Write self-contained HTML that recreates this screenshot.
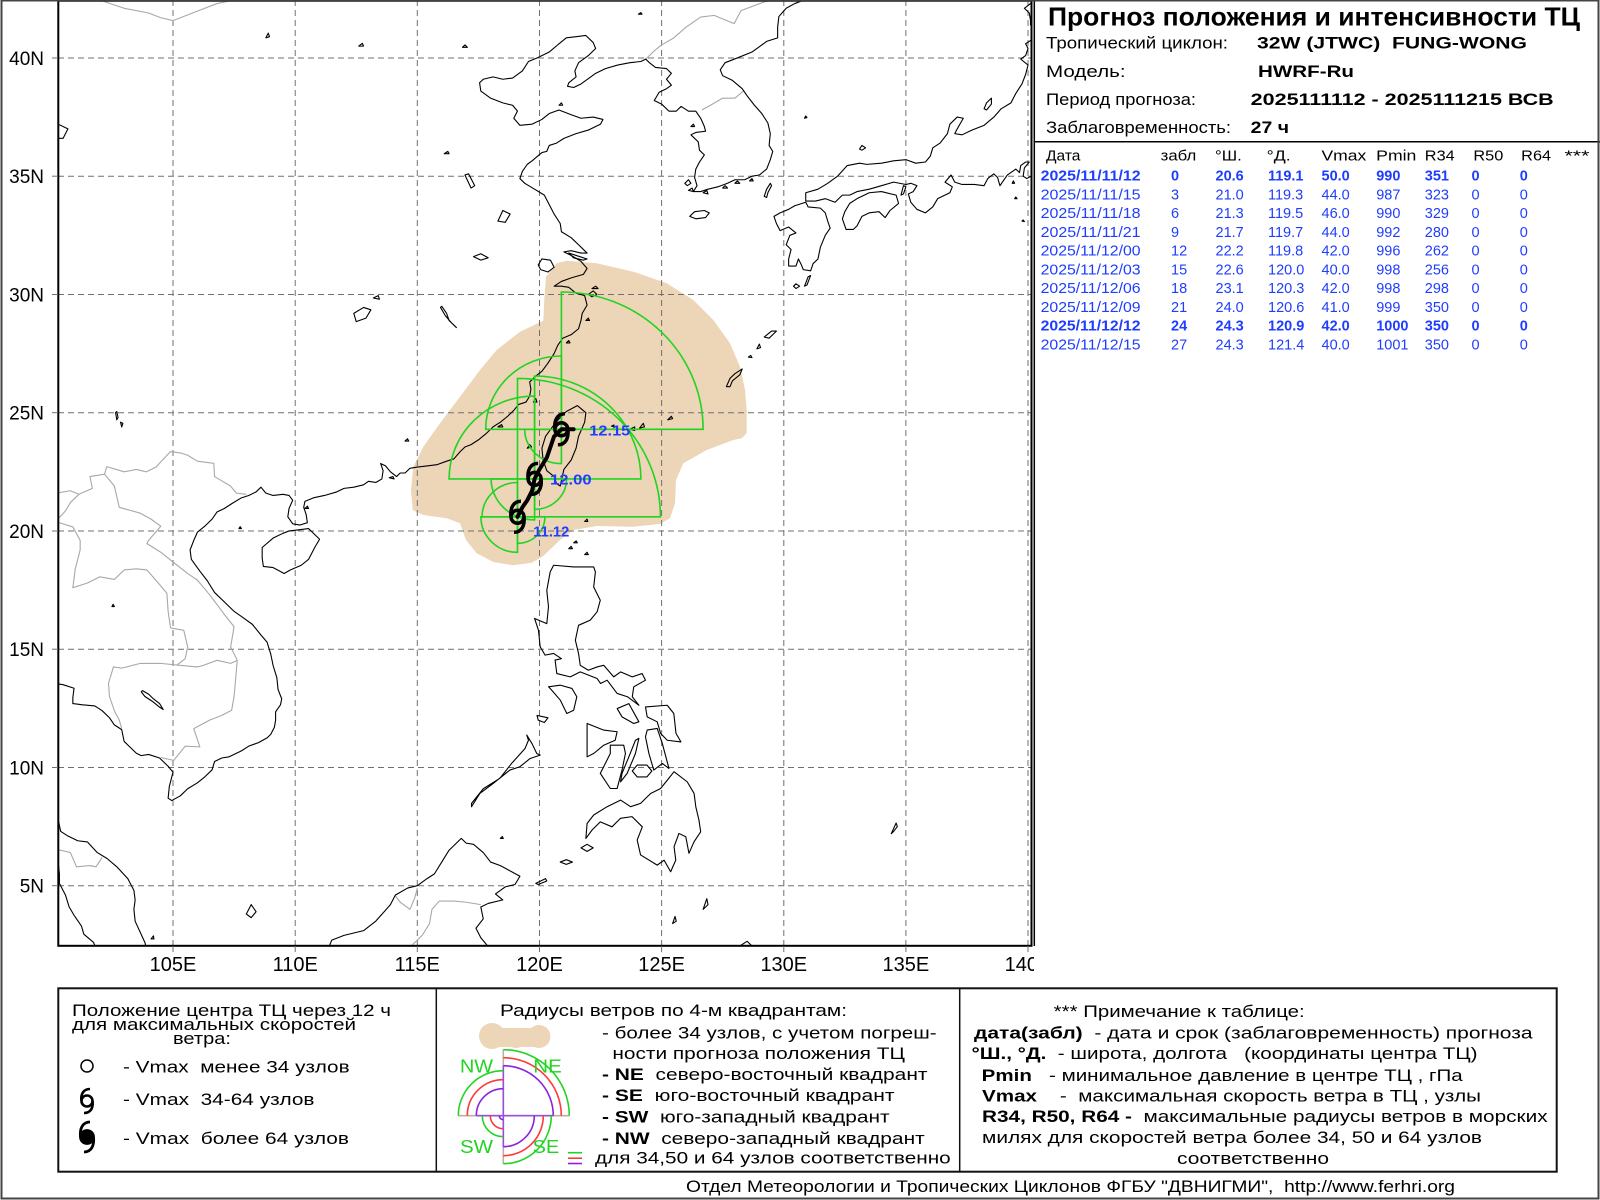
<!DOCTYPE html>
<html><head><meta charset="utf-8"><style>
html,body{margin:0;padding:0;background:#fff;}
svg{display:block;}
text{font-family:"Liberation Sans","DejaVu Sans",sans-serif;white-space:pre;}
.c{fill:none;stroke:#000;stroke-width:1.1;vector-effect:non-scaling-stroke;stroke-linejoin:round;}
.b{fill:none;stroke:#a8a8a8;stroke-width:1.1;vector-effect:non-scaling-stroke;stroke-linejoin:round;}
.g{fill:none;stroke:#22d422;stroke-width:1.6;}
.grid{stroke:#707070;stroke-width:1;stroke-dasharray:6 4;}
.tb{font-size:14.5px;fill:#1f3dff;}
.tbb{font-size:14.5px;fill:#1f3dff;font-weight:bold;}
.lg{font-size:17px;fill:#000;}
</style></head><body>
<svg width="1600" height="1200" viewBox="0 0 1600 1200" xmlns="http://www.w3.org/2000/svg">
<rect x="0" y="0" width="1600" height="1200" fill="#fff"/>
<defs><clipPath id="mc"><rect x="59" y="1" width="972" height="944"/></clipPath></defs>

<g clip-path="url(#mc)">
<polygon fill="#edd5b7" points="566.7,260.7 596.7,263.3 633.3,271.7 666.7,283.3 693.3,300 713.3,320 730,343.3 740,366.7 745,390 746.7,410 746.7,433.3 741.7,438.3 733.3,440 706.7,450 683.3,463.3 676,480 675,503.3 670,518.3 660,524 633.3,526.7 596.7,526 573.3,530 560,540 543.3,556 531.7,562.7 513.3,565.3 493.3,562 476.7,553.3 466,540 460,523.3 446.7,518.3 423.3,515 412.7,510 411,490 413.3,466.7 423.3,446.7 440,423.3 460,396.7 480,370 496.7,350 520,331.7 543.3,320.7 544.3,300 546,276.7 556.7,263.3"/>
<g class="grid">
<line x1="173" y1="0" x2="173" y2="946"/><line x1="295.2" y1="0" x2="295.2" y2="946"/><line x1="417.3" y1="0" x2="417.3" y2="946"/><line x1="539.5" y1="0" x2="539.5" y2="946"/><line x1="661.6" y1="0" x2="661.6" y2="946"/><line x1="783.8" y1="0" x2="783.8" y2="946"/><line x1="905.9" y1="0" x2="905.9" y2="946"/><line x1="1028" y1="0" x2="1028" y2="946"/>
<line x1="58" y1="885.7" x2="1032" y2="885.7"/><line x1="58" y1="767.5" x2="1032" y2="767.5"/><line x1="58" y1="649.2" x2="1032" y2="649.2"/><line x1="58" y1="531" x2="1032" y2="531"/><line x1="58" y1="412.7" x2="1032" y2="412.7"/><line x1="58" y1="294.5" x2="1032" y2="294.5"/><line x1="58" y1="176.2" x2="1032" y2="176.2"/><line x1="58" y1="58" x2="1032" y2="58"/>
</g>
<g transform="matrix(24.43 0 0 -23.65 -2392.15 1003.95)">
<g>
<polyline class="b" points="101.0,42.7 102.0,42.45 103.0,42.1 104.0,41.9 104.5,41.7 105.0,41.58 105.8,41.9 106.8,42.3 107.5,42.45 108.0,42.6"/>
<polyline class="b" points="124.35,39.95 124.7,40.3 125.0,40.55 125.5,40.85 126.0,41.3 126.6,41.73 127.15,41.8 127.97,41.45 128.25,42.0 129.2,42.37 129.8,42.5"/>
<polyline class="b" points="126.65,37.8 127.0,38.0 127.5,38.3 128.0,38.3 128.35,38.6"/>
<polyline class="b" points="108.0,21.55 107.6,21.6 107.35,21.9 106.7,22.3 106.67,22.86 106.0,22.95 105.6,23.2 105.3,23.3 104.89,23.35 104.3,22.7 103.9,22.5 103.5,22.6 103.0,22.5 102.29,22.72 102.2,22.4 101.6,22.3 101.7,21.8 101.15,21.55 100.8,21.7 100.23,21.6 99.8,21.8"/>
<polyline class="b" points="101.15,21.55 100.8,21.2 100.6,20.85 100.2,20.4 100.5,20.3 100.9,20.17 101.2,19.6 101.2,19.2 101.0,18.4 100.9,17.6 101.5,17.8 102.0,18.06 102.6,17.95 103.0,18.35 103.5,18.4 103.93,18.35 104.4,17.8 104.75,17.36 104.8,16.6 104.9,15.9 105.44,15.8 105.6,15.1 105.5,14.6 105.16,14.33"/>
<polyline class="b" points="102.2,22.4 102.6,21.9 102.8,21.0 103.66,20.75 104.1,20.5 104.5,20.2 104.0,19.6 103.93,19.47 104.5,19.1 104.9,18.77 105.6,18.2 106.0,17.92 106.5,17.3 106.67,17.07 107.08,16.5 107.5,15.95 107.36,15.1 107.63,14.53"/>
<polyline class="b" points="107.63,14.53 107.36,14.4 106.8,14.53 106.2,14.3 105.99,14.25 105.16,14.33 104.5,14.4 103.66,14.4 102.9,14.2 102.56,14.25 102.36,13.55 102.4,13.0 102.6,12.4 102.8,12.0 102.9,11.65"/>
<polyline class="b" points="107.63,14.53 107.56,13.69 107.5,13.0 107.4,12.42 107.0,12.2 106.5,12.0 105.85,11.64 106.1,10.87 105.5,10.9 105.03,10.3 104.5,10.42"/>
<polyline class="b" points="100.1,6.45 100.4,6.5 100.8,6.4 101.05,5.8 101.6,5.85 101.85,5.8 102.1,6.2"/>
<polyline class="b" points="114.6,2.2 114.8,2.5 115.2,2.9 115.5,3.4 115.6,4.0 115.9,4.35 116.5,4.35 117.0,4.3 117.6,4.2"/>
<polyline class="b" points="114.1,4.58 114.3,4.3 114.7,4.0 114.9,4.5 115.0,4.9"/>
</g>
<polyline class="c" points="101.9,2.2 101.75,2.6 101.35,2.95 101.25,3.3 100.95,3.75 100.75,4.1 100.6,4.6 100.35,5.1 100.35,5.5 100.3,6.0 100.1,6.4 99.8,6.9"/>
<polyline class="c" points="103.95,2.2 103.85,2.6 103.45,3.5 103.4,4.0 103.45,4.4 103.4,4.8 103.15,5.3 102.7,5.8 102.3,6.15 101.9,6.4 101.5,6.85 101.1,6.9 100.7,7.1 100.4,7.3 100.3,7.8 100.2,8.3 99.9,9.2 99.2,9.3 99.3,10.3 99.5,11.0 99.8,11.8 99.95,12.6 100.0,13.3 100.2,13.55 100.5,13.5 100.95,13.35 100.9,12.95 100.9,12.7 101.3,12.65 101.8,12.6 102.1,12.4 102.4,12.1 102.6,11.8 102.9,11.6 103.0,11.1 103.2,10.9 103.5,10.6 103.7,10.5 104.0,10.55 104.45,10.4 104.8,10.05 105.0,9.8 104.85,9.2 104.8,8.7 104.95,8.6 105.3,8.8 105.6,9.1 106.0,9.35 106.3,9.6 106.6,9.9 106.7,10.25 107.0,10.4 107.3,10.45 107.8,10.7 108.1,10.9 108.5,11.05 108.85,11.25 109.0,11.4 109.15,11.7 109.2,12.0 109.2,12.35 109.4,12.65 109.45,12.9 109.3,13.3 109.25,13.8 109.1,14.3 109.0,14.8 108.85,15.3 108.6,15.6 108.25,16.05 107.85,16.35 107.5,16.6 107.1,17.0 106.7,17.4 106.4,17.9 106.1,18.3 105.75,18.8 105.7,19.2 105.85,19.6 106.0,19.95 106.3,20.2 106.6,20.5 106.8,20.8 107.1,20.95 107.4,21.15 107.8,21.4 108.1,21.5 108.4,21.65 108.6,21.85 108.8,21.6 109.1,21.5 109.5,21.55 109.75,21.5 109.9,21.3 109.75,20.95 109.7,20.6 109.9,20.3 110.2,20.25 110.5,20.35 110.45,20.7 110.35,21.0 110.4,21.25 110.75,21.4 111.2,21.5 111.7,21.65 112.0,21.8 112.4,21.85 112.8,21.95 113.0,22.1 113.3,22.05 113.55,22.2 113.6,22.55 113.5,22.85 113.7,22.75 113.9,22.5 114.15,22.3 114.3,22.45 114.5,22.45 114.7,22.65 115.0,22.7 115.4,22.75 115.8,22.8 116.2,22.95 116.5,23.05 116.75,23.35 116.95,23.55 117.2,23.65 117.5,23.85 117.8,24.1 118.1,24.4 118.4,24.6 118.7,24.85 118.95,25.1 119.15,25.35 119.45,25.45 119.6,25.7 119.65,26.0 119.6,26.3 119.85,26.55 120.1,26.75 120.35,27.1 120.6,27.5 120.75,27.85 120.95,28.15 121.3,28.3 121.6,28.55 121.7,28.9 121.75,29.2 121.95,29.55 121.85,29.95 121.5,30.05 121.2,30.3 120.9,30.35 120.6,30.35 120.9,30.55 121.3,30.7 121.8,30.85 121.95,31.1 121.7,31.4 121.3,31.65 121.0,31.8 121.3,31.85 121.7,31.75 121.95,31.75 121.6,32.1 121.3,32.4 120.9,32.65 120.85,33.0 120.6,33.4 120.4,33.8 120.2,34.2 119.8,34.45 119.4,34.7 119.2,34.9 119.3,35.2 119.5,35.5 119.7,35.65 120.1,36.0 120.3,36.05 120.4,36.3 120.7,36.4 121.0,36.6 121.5,36.8 122.0,36.95 122.5,37.2 122.6,37.4 122.2,37.5 121.7,37.45 121.3,37.6 120.8,37.8 120.4,37.65 120.1,37.4 119.7,37.2 119.2,37.15 118.95,37.45 119.1,37.75 118.9,38.0 118.5,38.1 118.0,38.3 117.6,38.6 117.55,38.95 117.7,39.1 118.1,39.2 118.5,39.1 118.9,39.15 119.3,39.45 119.55,39.85 119.9,40.0 120.4,40.25 120.8,40.6 121.1,40.85 121.5,40.9 121.9,40.95 122.2,40.65 122.3,40.4 122.0,40.1 121.6,39.8 121.45,39.45 121.5,39.2 121.2,38.95 121.15,38.8 121.4,38.75 121.7,38.9 121.9,39.05 122.3,39.35 122.7,39.55 123.2,39.7 123.7,39.8 124.15,39.85 124.35,39.95 124.5,39.8 124.75,39.6 125.2,39.55 125.4,39.35 125.2,39.1 125.4,38.85 125.2,38.7 124.9,38.55 124.7,38.2 125.0,38.05 125.3,37.75 125.6,37.75 125.8,37.95 126.1,37.75 126.4,37.75 126.6,37.45 126.75,37.1 126.8,36.9 126.4,36.85 126.2,36.75 126.5,36.45 126.55,36.1 126.75,35.9 126.55,35.6 126.4,35.3 126.35,34.95 126.45,34.6 126.3,34.35 126.6,34.35 126.9,34.45 127.3,34.55 127.7,34.7 128.0,34.85 128.4,34.85 128.7,35.0 129.0,35.05 129.3,35.3 129.45,35.7 129.55,36.05 129.4,36.3 129.45,36.8 129.35,37.25 129.1,37.65 128.8,38.0 128.5,38.4 128.3,38.7 127.9,39.05 127.5,39.25 127.4,39.5 127.6,39.8 128.1,40.0 128.7,40.25 129.3,40.7 129.75,40.85 129.75,41.3 129.8,41.75 130.1,42.1 130.45,42.3 130.7,42.4 130.9,42.7"/>
<polyline class="c" points="110.5,1.5 111.0,1.6 111.3,2.2 111.5,2.7 112.0,2.9 112.8,3.1 113.3,3.5 113.9,4.2 114.1,4.6 114.6,4.9 115.0,5.0 115.4,5.3 115.7,5.5 116.0,6.0 116.3,6.5 116.7,6.9 116.8,7.0 117.0,6.8 117.3,6.75 117.7,6.4 118.0,6.0 118.4,5.85 119.2,5.4 119.0,5.05 118.6,4.95 118.2,4.65 118.5,4.4 117.9,4.25 117.6,4.1 117.7,3.6 117.4,3.2 117.6,2.8 118.0,2.3 117.9,1.5"/>
<polygon class="c" points="110.15,20.05 110.55,20.1 110.7,19.95 111.0,19.65 110.8,19.3 110.55,18.8 110.25,18.55 109.8,18.35 109.55,18.2 109.1,18.45 108.7,18.5 108.65,18.85 108.65,19.3 109.1,19.7 109.5,19.9 109.75,20.0"/>
<polygon class="c" points="121.55,25.3 121.9,25.0 121.85,24.6 121.6,24.0 121.5,23.5 121.3,23.0 121.0,22.6 120.85,21.9 120.7,22.0 120.6,22.3 120.3,22.55 120.15,23.0 120.1,23.5 120.25,24.0 120.6,24.5 120.9,24.85 121.1,25.05"/>
<polygon class="c" points="130.9,33.9 131.0,33.7 131.5,33.65 131.7,33.45 131.8,33.1 131.9,32.8 131.7,32.5 131.5,32.0 131.4,31.5 131.2,31.3 131.1,31.0 130.8,31.05 130.7,31.3 130.6,31.5 130.5,31.2 130.2,31.2 130.2,31.5 130.3,31.9 130.1,32.1 130.25,32.5 130.5,32.6 130.2,32.85 129.85,32.7 129.7,33.0 129.6,33.3 129.85,33.45 130.2,33.6 130.45,33.75"/>
<polyline class="c" points="140.9,41.5 140.6,41.2 140.4,41.0 140.2,40.8 139.9,40.6 140.0,40.4 139.9,40.1 139.7,39.95 140.0,39.7 139.9,39.3 139.75,38.9 139.5,38.5 139.3,38.1 138.9,37.85 138.6,37.5 138.2,37.15 137.7,36.95 137.3,36.75 137.0,36.8 137.1,37.0 137.35,37.45 137.1,37.5 136.8,37.2 136.7,36.8 136.4,36.4 136.1,36.2 136.0,35.85 135.8,35.6 135.4,35.55 135.0,35.7 134.5,35.65 134.0,35.55 133.4,35.5 133.1,35.55 132.6,35.45 132.2,35.0 131.8,34.7 131.4,34.45 130.9,34.3 130.9,33.95 131.3,33.95 131.7,34.05 132.1,33.9 132.4,34.2 132.7,34.2 133.0,34.35 133.5,34.45 134.0,34.6 134.5,34.75 135.0,34.65 135.2,34.7 135.45,34.6 135.3,34.35 135.1,34.25 135.2,33.9 135.45,33.6 135.8,33.45 136.1,33.7 136.3,34.05 136.8,34.3 136.9,34.55 136.6,34.75 136.85,35.05 137.0,34.75 137.3,34.65 137.8,34.65 138.2,34.6 138.35,34.9 138.6,35.1 138.75,34.95 138.85,34.6 139.15,35.05 139.5,35.3 139.65,35.15 139.7,35.45 139.9,35.6 140.05,35.6 139.85,35.35 139.8,35.0 139.95,34.9 140.3,35.1 140.6,35.5 140.9,35.7"/>
<polyline class="c" points="140.3,42.6 140.1,42.3 139.85,42.1 140.05,41.9 140.1,41.6 140.1,41.4 140.4,41.5"/>
<polygon class="c" points="132.55,32.75 132.4,33.2 132.5,33.5 132.7,33.85 133.0,34.05 133.5,34.3 134.0,34.35 134.6,34.2 134.7,33.85 134.35,33.55 134.15,33.25 133.9,33.5 133.5,33.45 133.2,33.3 133.0,32.9 132.85,32.75"/>
<polygon class="c" points="120.58,18.55 121.4,18.48 122.22,18.48 122.29,18.27 122.22,17.63 122.49,17.07 122.36,16.58 122.08,16.23 121.6,16.01 121.47,15.38 121.6,14.82 121.67,14.32 122.0,14.11 122.36,14.25 122.63,14.32 123.04,13.83 123.32,14.04 123.8,13.83 124.2,13.97 124.34,13.69 123.86,13.41 123.8,12.99 124.07,12.63 123.6,12.99 123.18,13.13 122.77,13.69 122.5,13.55 122.36,13.76 121.67,14.04 121.26,13.83 120.71,13.97 120.64,14.54 120.9,14.6 120.58,14.82 120.23,14.75 120.03,15.1 119.96,15.8 119.8,16.3 120.3,16.08 120.37,16.79 120.3,17.49 120.44,18.27"/>
<polygon class="c" points="120.37,13.41 120.85,13.48 121.33,13.34 121.53,12.99 121.4,12.42 121.12,12.28 120.85,12.85 120.5,13.27"/>
<polygon class="c" points="119.89,10.59 120.03,10.52 119.62,10.38 119.2,10.03 118.79,9.89 118.1,9.32 117.56,8.9 117.22,8.34 117.22,8.48 117.7,9.1 118.38,9.54 118.86,10.17 119.41,10.8 119.55,11.15 119.48,11.37 119.7,11.0"/>
<polygon class="c" points="119.9,12.2 120.35,12.1 120.2,11.9 119.95,12.0"/>
<polygon class="c" points="121.95,11.86 122.63,11.58 123.18,11.51 123.1,11.15 122.63,10.94 122.22,10.59 121.95,10.45 121.95,11.15"/>
<polygon class="c" points="122.9,10.94 123.45,10.94 123.52,10.59 123.38,9.89 123.18,9.11 122.9,9.11 122.49,9.75 122.63,10.03 122.9,10.59"/>
<polygon class="c" points="124.07,11.23 123.93,10.59 123.59,9.75 123.32,9.39 123.38,9.75 123.66,10.45 123.93,11.15"/>
<polygon class="c" points="123.8,9.85 124.0,10.1 124.4,10.1 124.6,9.85 124.4,9.6 124.0,9.6"/>
<polygon class="c" points="124.34,12.56 125.23,12.63 125.5,12.28 125.59,11.44 125.79,11.08 125.23,11.15 124.96,11.44 124.82,11.93 124.41,12.14"/>
<polygon class="c" points="124.41,11.58 124.82,11.65 125.03,11.01 125.3,9.96 125.03,10.17 124.68,9.89 124.48,10.59 124.34,11.3"/>
<polygon class="c" points="123.18,12.49 123.66,12.7 124.07,11.93 123.86,11.86 123.38,12.14"/>
<polygon class="c" points="125.51,9.82 126.05,9.39 126.33,8.9 126.4,8.34 126.53,7.77 126.6,7.28 126.33,6.86 126.12,6.37 125.99,7.07 125.71,7.21 125.51,6.65 125.58,6.08 125.37,5.59 125.1,6.08 124.82,5.87 124.14,6.3 124.0,6.93 124.21,7.49 123.79,7.92 123.32,7.85 122.97,7.49 122.49,7.7 122.15,7.35 121.9,7.0 121.95,7.63 122.22,7.99 122.77,8.34 123.32,8.62 123.73,8.34 124.14,8.48 124.55,8.9 124.96,9.11 125.23,9.46"/>
<polygon class="c" points="121.7,6.6 121.95,6.75 122.2,6.6 121.95,6.45"/>
<polygon class="c" points="120.85,6.0 121.1,6.1 121.35,6.0 121.1,5.9"/>
<polygon class="c" points="119.85,5.1 120.25,5.3 120.3,5.2 119.95,5.05"/>
<polygon class="c" points="126.15,33.3 126.35,33.5 126.75,33.55 126.95,33.45 126.8,33.25 126.4,33.2"/>
<polygon class="c" points="129.2,34.15 129.3,34.45 129.45,34.7 129.5,34.6 129.35,34.3 129.3,34.1"/>
<polygon class="c" points="130.85,30.35 131.0,30.75 131.1,30.8 130.95,30.4"/>
<polygon class="c" points="130.4,30.35 130.5,30.45 130.65,30.35 130.5,30.25"/>
<polygon class="c" points="129.2,28.2 129.5,28.45 129.7,28.45 129.4,28.15"/>
<polygon class="c" points="128.9,27.7 129.0,27.9 129.05,27.75"/>
<polygon class="c" points="128.55,27.35 128.65,27.42 128.7,27.33"/>
<polygon class="c" points="127.65,26.1 127.8,26.45 128.0,26.65 128.3,26.85 128.2,26.6 127.9,26.35 127.8,26.1"/>
<polygon class="c" points="125.25,24.7 125.4,24.85 125.45,24.75"/>
<polygon class="c" points="124.1,24.35 124.25,24.55 124.3,24.4"/>
<polygon class="c" points="123.7,24.3 123.9,24.4 123.9,24.25"/>
<polygon class="c" points="122.95,24.43 123.05,24.48 123.05,24.42"/>
<polygon class="c" points="138.2,37.85 138.3,38.1 138.5,38.3 138.5,38.05 138.3,37.8"/>
<polygon class="c" points="133.1,36.15 133.2,36.3 133.35,36.2 133.2,36.1"/>
<polygon class="c" points="130.85,37.45 130.9,37.55 130.95,37.48"/>
<polygon class="c" points="139.35,34.7 139.4,34.8 139.45,34.7"/>
<polygon class="c" points="139.45,34.05 139.5,34.12 139.55,34.05"/>
<polygon class="c" points="139.75,33.1 139.8,33.15 139.85,33.08"/>
<polygon class="c" points="134.8,34.2 134.9,34.6 135.0,34.55 134.9,34.25"/>
<polygon class="c" points="108.0,3.8 108.2,4.2 108.4,3.9 108.2,3.65"/>
<polygon class="c" points="104.1,2.75 104.2,2.88 104.22,2.75"/>
<polygon class="c" points="125.45,3.4 125.55,3.7 125.6,3.5"/>
<polygon class="c" points="126.7,4.0 126.85,4.45 126.9,4.2"/>
<polygon class="c" points="128.2,2.45 128.5,2.65 128.7,2.45"/>
<polygon class="c" points="134.4,7.2 134.6,7.65 134.65,7.5 134.5,7.3"/>
<polygon class="c" points="121.85,20.4 121.95,20.5 121.98,20.4"/>
<polygon class="c" points="121.2,19.25 121.3,19.35 121.35,19.25"/>
<polygon class="c" points="121.85,19.0 121.95,19.1 122.0,19.0"/>
<polygon class="c" points="121.4,19.5 121.5,19.58 121.55,19.5"/>
<polygon class="c" points="119.5,23.5 119.6,23.65 119.68,23.55"/>
<polygon class="c" points="122.0,30.0 122.2,30.15 122.35,30.0 122.15,29.9"/>
<polygon class="c" points="121.2,31.75 121.5,31.65 121.95,31.5 121.8,31.45 121.4,31.55"/>
<polygon class="c" points="107.7,20.1 107.75,20.18 107.8,20.1"/>
<polygon class="c" points="118.4,7.0 118.48,7.08 118.52,7.0"/>
<!-- extra small islands -->
<polygon class="c" points="125.95,34.7 126.1,34.85 126.2,34.7 126.05,34.6"/>
<polygon class="c" points="126.1,34.4 126.25,34.5 126.3,34.35"/>
<polygon class="c" points="126.7,34.3 126.85,34.4 126.9,34.25"/>
<polygon class="c" points="127.5,34.5 127.6,34.6 127.7,34.5"/>
<polygon class="c" points="128.0,34.7 128.1,34.8 128.2,34.7"/>
<polygon class="c" points="128.6,34.8 128.7,34.9 128.75,34.8"/>
<polygon class="c" points="126.2,37.1 126.3,37.2 126.35,37.1"/>
<polygon class="c" points="122.15,30.25 122.3,30.35 122.4,30.25"/>
<polygon class="c" points="121.9,28.9 122.0,29.0 122.05,28.9"/>
<polygon class="c" points="121.1,27.95 121.2,28.05 121.25,27.95"/>
<polygon class="c" points="119.75,25.45 119.85,25.6 119.9,25.45"/>
<polygon class="c" points="118.3,24.4 118.45,24.5 118.5,24.4"/>
<polygon class="c" points="113.85,22.25 114.0,22.3 114.05,22.2"/>
<polygon class="c" points="110.4,20.95 110.5,21.05 110.55,20.95"/>
<polygon class="c" points="120.8,38.0 120.9,38.1 120.95,38.0"/>
<polygon class="c" points="116.85,40.45 116.95,40.55 117.05,40.45"/>
<polygon class="c" points="124.05,41.85 124.15,41.92 124.2,41.85"/>
<polygon class="c" points="119.95,31.25 120.1,31.5 120.45,31.45 120.6,31.15 120.35,30.95 120.05,31.05"/>
<polygon class="c" points="118.3,33.1 118.5,33.55 118.8,33.4 118.6,33.05"/>
<polygon class="c" points="117.3,31.6 117.6,31.72 117.9,31.55 117.6,31.45"/>
<polygon class="c" points="116.95,35.05 117.1,35.1 117.35,34.6 117.2,34.5"/>
<polygon class="c" points="116.1,35.95 116.25,36.05 116.3,35.95"/>
<polygon class="c" points="116.0,29.5 116.2,29.2 116.3,28.9 116.6,28.6 116.4,28.8 116.15,29.1 115.95,29.45"/>
<polygon class="c" points="112.4,29.2 112.8,29.45 113.1,29.35 112.9,29.0 112.5,28.85"/>
<polygon class="c" points="113.2,29.85 113.4,29.95 113.45,29.8"/>
<polygon class="c" points="102.65,25.0 102.7,24.7 102.75,24.8 102.7,25.05"/>
<polygon class="c" points="102.85,24.6 102.9,24.4 102.95,24.55"/>
<polygon class="c" points="99.8,36.9 100.3,37.2 100.7,37.0 100.5,36.6 100.0,36.6"/>
<polygon class="c" points="108.8,40.85 108.9,41.05 108.95,40.9"/>
<polygon class="c" points="112.6,40.5 112.75,40.62 112.8,40.5"/>
<polygon class="c" points="114.5,23.8 114.6,23.9 114.65,23.8"/>
<polygon class="c" points="103.75,13.25 104.0,13.1 104.2,12.9 104.45,12.7 104.6,12.45 104.45,12.55 104.15,12.8 103.85,13.0 103.7,13.2"/>
<polygon class="c" points="102.5,16.8 102.55,16.9 102.6,16.8"/>
</g>
<g class="g">
<path d="M561.4,429.3 L561.4,292 A141.7,137.3 0 0 1 703.1,429.3 Z"/>
<path d="M561.4,429.3 L485.7,429.3 A75.7,73.3 0 0 1 561.4,356 Z"/>
<path d="M561.4,429.3 L561.4,463.6 A36.7,34.3 0 0 1 524.7,429.3 Z"/>
<path d="M534.6,478.9 L534.6,376 A106.3,102.9 0 0 1 640.9,478.9 Z"/>
<path d="M534.6,478.9 L566.6,478.9 A32,30.4 0 0 1 534.6,509.3 Z"/>
<path d="M534.6,478.9 L534.6,519.9 A43.5,41 0 0 1 491.1,478.9 Z"/>
<path d="M534.6,478.9 L449.1,478.9 A85.5,82.8 0 0 1 534.6,396.1 Z"/>
<path d="M517.5,516.8 L517.5,378.4 A142.9,138.4 0 0 1 660.4,516.8 Z"/>
<path d="M517.5,516.8 L544.9,516.8 A27.4,26.5 0 0 1 517.5,543.3 Z"/>
<path d="M517.5,516.8 L517.5,552.3 A36.6,35.5 0 0 1 480.9,516.8 Z"/>
<path d="M517.5,516.8 L482.1,516.8 A35.4,34.3 0 0 1 517.5,482.5 Z"/>
</g>
<polyline fill="none" stroke="#000" stroke-width="4" stroke-linejoin="round" stroke-linecap="round" points="517.5,516.8 522.4,507.3 527.3,500.2 532.1,490.7 534.6,478.9 539.4,469.5 546.8,457.6 554.1,436.4 561.4,429.3 573.6,429.3"/>
<g fill="none" stroke="#000" stroke-width="3.5">
<g transform="translate(517.5,516.8)"><circle r="6.5"/><path d="M-6.5,0 C-7.5,-9 -4,-15.5 3.5,-15.5"/><path d="M6.5,0 C7.5,9 4,15.5 -3.5,15.5"/></g>
<g transform="translate(534.6,478.9)"><circle r="6.5"/><path d="M-6.5,0 C-7.5,-9 -4,-15.5 3.5,-15.5"/><path d="M6.5,0 C7.5,9 4,15.5 -3.5,15.5"/></g>
<g transform="translate(561.4,429.3)"><circle r="6.5"/><path d="M-6.5,0 C-7.5,-9 -4,-15.5 3.5,-15.5"/><path d="M6.5,0 C7.5,9 4,15.5 -3.5,15.5"/></g>
</g>
<g font-weight="bold" font-size="15" fill="#1f3dff">
<text x="589.3" y="435.5" textLength="41" lengthAdjust="spacingAndGlyphs">12.15</text>
<text x="550" y="484.5" textLength="41.7" lengthAdjust="spacingAndGlyphs">12.00</text>
<text x="533.3" y="536.5" textLength="36" lengthAdjust="spacingAndGlyphs">11.12</text>
</g>
</g>
<rect x="58.3" y="0.8" width="973.2" height="945" fill="none" stroke="#000" stroke-width="2"/>
<g stroke="#707070" stroke-width="1">
<line x1="52" y1="885.7" x2="58" y2="885.7"/><line x1="52" y1="767.5" x2="58" y2="767.5"/><line x1="52" y1="649.2" x2="58" y2="649.2"/><line x1="52" y1="531" x2="58" y2="531"/><line x1="52" y1="412.7" x2="58" y2="412.7"/><line x1="52" y1="294.5" x2="58" y2="294.5"/><line x1="52" y1="176.2" x2="58" y2="176.2"/><line x1="52" y1="58" x2="58" y2="58"/>
<line x1="173" y1="946" x2="173" y2="952"/><line x1="295.2" y1="946" x2="295.2" y2="952"/><line x1="417.3" y1="946" x2="417.3" y2="952"/><line x1="539.5" y1="946" x2="539.5" y2="952"/><line x1="661.6" y1="946" x2="661.6" y2="952"/><line x1="783.8" y1="946" x2="783.8" y2="952"/><line x1="905.9" y1="946" x2="905.9" y2="952"/><line x1="1028" y1="946" x2="1028" y2="952"/>
</g>
<g font-size="19" text-anchor="end" fill="#000">
<text x="44" y="892.7">5N</text><text x="44" y="774.5">10N</text><text x="44" y="656.2">15N</text><text x="44" y="538">20N</text><text x="44" y="419.7">25N</text><text x="44" y="301.5">30N</text><text x="44" y="183.2">35N</text><text x="44" y="65">40N</text>
</g>
<g font-size="20" text-anchor="middle" fill="#000">
<text x="173" y="971">105E</text><text x="295.2" y="971">110E</text><text x="417.3" y="971">115E</text><text x="539.5" y="971">120E</text><text x="661.6" y="971">125E</text><text x="783.8" y="971">130E</text><text x="905.9" y="971">135E</text><text x="1028" y="971">140E</text>
</g>
<rect x="1034" y="0" width="566" height="985" fill="#fff"/>
<line x1="1034.3" y1="0" x2="1034.3" y2="946" stroke="#000" stroke-width="1.5"/>
<line x1="1034" y1="141.7" x2="1600" y2="141.7" stroke="#000" stroke-width="1.5"/>
<text x="1048" y="25.5" font-size="26" font-weight="bold" textLength="532" lengthAdjust="spacingAndGlyphs">Прогноз положения и интенсивности ТЦ</text>
<g font-size="17" fill="#000">
<text x="1046" y="48.5" textLength="182" lengthAdjust="spacingAndGlyphs">Тропический циклон:</text>
<text x="1257" y="48.5" font-weight="bold" textLength="270" lengthAdjust="spacingAndGlyphs">32W (JTWC)  FUNG-WONG</text>
<text x="1046" y="77" textLength="79.6" lengthAdjust="spacingAndGlyphs">Модель:</text>
<text x="1258" y="77" font-weight="bold" textLength="96" lengthAdjust="spacingAndGlyphs">HWRF-Ru</text>
<text x="1046" y="105" textLength="150" lengthAdjust="spacingAndGlyphs">Период прогноза:</text>
<text x="1250.7" y="105" font-weight="bold" textLength="303" lengthAdjust="spacingAndGlyphs">2025111112 - 2025111215 ВСВ</text>
<text x="1046" y="133" textLength="185" lengthAdjust="spacingAndGlyphs">Заблаговременность:</text>
<text x="1250.7" y="133" font-weight="bold" textLength="38.3" lengthAdjust="spacingAndGlyphs">27 ч</text>
</g>
<g font-size="14.5" fill="#000">
<text x="1046" y="160.7" textLength="34.4" lengthAdjust="spacingAndGlyphs">Дата</text>
<text x="1160.7" y="160.7" textLength="35.6" lengthAdjust="spacingAndGlyphs">забл</text>
<text x="1215" y="160.7" textLength="26.8" lengthAdjust="spacingAndGlyphs">°Ш.</text>
<text x="1266.7" y="160.7" textLength="24" lengthAdjust="spacingAndGlyphs">°Д.</text>
<text x="1321.5" y="160.7" textLength="44.8" lengthAdjust="spacingAndGlyphs">Vmax</text>
<text x="1376.2" y="160.7" textLength="40.2" lengthAdjust="spacingAndGlyphs">Pmin</text>
<text x="1424.8" y="160.7" textLength="29.9" lengthAdjust="spacingAndGlyphs">R34</text>
<text x="1473.4" y="160.7" textLength="29.9" lengthAdjust="spacingAndGlyphs">R50</text>
<text x="1521.2" y="160.7" textLength="29.9" lengthAdjust="spacingAndGlyphs">R64</text>
<text x="1564.5" y="160.7" textLength="24.9" lengthAdjust="spacingAndGlyphs">***</text>
</g>
<g class="tbb"><text x="1040.6" y="180.7" textLength="100" lengthAdjust="spacingAndGlyphs">2025/11/11/12</text><text x="1171" y="180.7">0</text><text x="1215.5" y="180.7">20.6</text><text x="1268" y="180.7">119.1</text><text x="1321.5" y="180.7">50.0</text><text x="1376.2" y="180.7">990</text><text x="1424.8" y="180.7">351</text><text x="1471.5" y="180.7">0</text><text x="1519.7" y="180.7">0</text></g>
<g class="tb"><text x="1040.6" y="199.5" textLength="100" lengthAdjust="spacingAndGlyphs">2025/11/11/15</text><text x="1171" y="199.5">3</text><text x="1215.5" y="199.5">21.0</text><text x="1268" y="199.5">119.3</text><text x="1321.5" y="199.5">44.0</text><text x="1376.2" y="199.5">987</text><text x="1424.8" y="199.5">323</text><text x="1471.5" y="199.5">0</text><text x="1519.7" y="199.5">0</text></g>
<g class="tb"><text x="1040.6" y="218.2" textLength="100" lengthAdjust="spacingAndGlyphs">2025/11/11/18</text><text x="1171" y="218.2">6</text><text x="1215.5" y="218.2">21.3</text><text x="1268" y="218.2">119.5</text><text x="1321.5" y="218.2">46.0</text><text x="1376.2" y="218.2">990</text><text x="1424.8" y="218.2">329</text><text x="1471.5" y="218.2">0</text><text x="1519.7" y="218.2">0</text></g>
<g class="tb"><text x="1040.6" y="237" textLength="100" lengthAdjust="spacingAndGlyphs">2025/11/11/21</text><text x="1171" y="237">9</text><text x="1215.5" y="237">21.7</text><text x="1268" y="237">119.7</text><text x="1321.5" y="237">44.0</text><text x="1376.2" y="237">992</text><text x="1424.8" y="237">280</text><text x="1471.5" y="237">0</text><text x="1519.7" y="237">0</text></g>
<g class="tb"><text x="1040.6" y="255.7" textLength="100" lengthAdjust="spacingAndGlyphs">2025/11/12/00</text><text x="1171" y="255.7">12</text><text x="1215.5" y="255.7">22.2</text><text x="1268" y="255.7">119.8</text><text x="1321.5" y="255.7">42.0</text><text x="1376.2" y="255.7">996</text><text x="1424.8" y="255.7">262</text><text x="1471.5" y="255.7">0</text><text x="1519.7" y="255.7">0</text></g>
<g class="tb"><text x="1040.6" y="274.5" textLength="100" lengthAdjust="spacingAndGlyphs">2025/11/12/03</text><text x="1171" y="274.5">15</text><text x="1215.5" y="274.5">22.6</text><text x="1268" y="274.5">120.0</text><text x="1321.5" y="274.5">40.0</text><text x="1376.2" y="274.5">998</text><text x="1424.8" y="274.5">256</text><text x="1471.5" y="274.5">0</text><text x="1519.7" y="274.5">0</text></g>
<g class="tb"><text x="1040.6" y="293.2" textLength="100" lengthAdjust="spacingAndGlyphs">2025/11/12/06</text><text x="1171" y="293.2">18</text><text x="1215.5" y="293.2">23.1</text><text x="1268" y="293.2">120.3</text><text x="1321.5" y="293.2">42.0</text><text x="1376.2" y="293.2">998</text><text x="1424.8" y="293.2">298</text><text x="1471.5" y="293.2">0</text><text x="1519.7" y="293.2">0</text></g>
<g class="tb"><text x="1040.6" y="312" textLength="100" lengthAdjust="spacingAndGlyphs">2025/11/12/09</text><text x="1171" y="312">21</text><text x="1215.5" y="312">24.0</text><text x="1268" y="312">120.6</text><text x="1321.5" y="312">41.0</text><text x="1376.2" y="312">999</text><text x="1424.8" y="312">350</text><text x="1471.5" y="312">0</text><text x="1519.7" y="312">0</text></g>
<g class="tbb"><text x="1040.6" y="330.7" textLength="100" lengthAdjust="spacingAndGlyphs">2025/11/12/12</text><text x="1171" y="330.7">24</text><text x="1215.5" y="330.7">24.3</text><text x="1268" y="330.7">120.9</text><text x="1321.5" y="330.7">42.0</text><text x="1376.2" y="330.7">1000</text><text x="1424.8" y="330.7">350</text><text x="1471.5" y="330.7">0</text><text x="1519.7" y="330.7">0</text></g>
<g class="tb"><text x="1040.6" y="349.5" textLength="100" lengthAdjust="spacingAndGlyphs">2025/11/12/15</text><text x="1171" y="349.5">27</text><text x="1215.5" y="349.5">24.3</text><text x="1268" y="349.5">121.4</text><text x="1321.5" y="349.5">40.0</text><text x="1376.2" y="349.5">1001</text><text x="1424.8" y="349.5">350</text><text x="1471.5" y="349.5">0</text><text x="1519.7" y="349.5">0</text></g>

<rect x="58.3" y="988.3" width="1498.4" height="183.4" fill="none" stroke="#111" stroke-width="2"/>
<line x1="436.3" y1="988.3" x2="436.3" y2="1171.7" stroke="#111" stroke-width="1.5"/>
<line x1="959.7" y1="988.3" x2="959.7" y2="1171.7" stroke="#111" stroke-width="1.5"/>
<g class="lg">
<text x="72" y="1016" textLength="319" lengthAdjust="spacingAndGlyphs">Положение центра ТЦ через 12 ч</text>
<text x="72" y="1030" textLength="284" lengthAdjust="spacingAndGlyphs">для максимальных скоростей</text>
<text x="173" y="1044" textLength="58" lengthAdjust="spacingAndGlyphs">ветра:</text>
<text x="123" y="1072.5" textLength="226.6" lengthAdjust="spacingAndGlyphs">- Vmax  менее 34 узлов</text>
<text x="123" y="1105" textLength="191.5" lengthAdjust="spacingAndGlyphs">- Vmax  34-64 узлов</text>
<text x="123" y="1144" textLength="226" lengthAdjust="spacingAndGlyphs">- Vmax  более 64 узлов</text>
</g>
<circle cx="87" cy="1066" r="6" fill="none" stroke="#000" stroke-width="1.5"/>
<g fill="none" stroke="#000" stroke-width="2.6" transform="translate(87,1101)"><circle r="5.5"/><path d="M-5.5,0 C-6.5,-7 -3.5,-12 3,-12"/><path d="M5.5,0 C6.5,7 3.5,12 -3,12"/></g>
<g stroke="#000" stroke-width="2.8" transform="translate(87,1137)"><circle r="6.5" fill="#000"/><path fill="none" d="M-6.5,0 C-7.5,-9 -4,-15 3,-15"/><path fill="none" d="M6.5,0 C7.5,9 4,15 -3,15"/></g>

<g class="lg">
<text x="500" y="1016" textLength="347" lengthAdjust="spacingAndGlyphs">Радиусы ветров по 4-м квадрантам:</text>
<text x="602" y="1038.5" textLength="334.6" lengthAdjust="spacingAndGlyphs">- более 34 узлов, с учетом погреш-</text>
<text x="612.4" y="1059" textLength="292.5" lengthAdjust="spacingAndGlyphs">ности прогноза положения ТЦ</text>
<text x="602" y="1080" textLength="325.5" lengthAdjust="spacingAndGlyphs"><tspan font-weight="bold">- NE</tspan>  северо-восточный квадрант</text>
<text x="602" y="1101" textLength="292.5" lengthAdjust="spacingAndGlyphs"><tspan font-weight="bold">- SE</tspan>  юго-восточный квадрант</text>
<text x="602" y="1122.3" textLength="287.6" lengthAdjust="spacingAndGlyphs"><tspan font-weight="bold">- SW</tspan>  юго-западный квадрант</text>
<text x="602" y="1144" textLength="322.7" lengthAdjust="spacingAndGlyphs"><tspan font-weight="bold">- NW</tspan>  северо-западный квадрант</text>
<text x="595" y="1163.5" textLength="355.7" lengthAdjust="spacingAndGlyphs">для 34,50 и 64 узлов соответственно</text>
</g>
<g fill="#edd5b7"><circle cx="492" cy="1036" r="13"/><circle cx="539" cy="1036.5" r="11.5"/><circle cx="516" cy="1038" r="10"/><rect x="492" y="1028" width="47" height="19"/></g>
<g fill="none" stroke-width="1.6">
<line x1="458" y1="1115.7" x2="569.3" y2="1115.7" stroke="#c0b0a0"/>
<line x1="503.3" y1="1049.7" x2="503.3" y2="1163.7" stroke="#c0b0a0"/>
<line x1="476.3" y1="1115.7" x2="553.3" y2="1115.7" stroke="#9a4fd8"/>
<line x1="503.3" y1="1065.7" x2="503.3" y2="1146.7" stroke="#9a4fd8"/>
<path stroke="#22d422" d="M503.3,1049.7 A66,66 0 0 1 569.3,1115.7"/>
<path stroke="#ff3a3a" d="M503.3,1057.7 A58,58 0 0 1 561.3,1115.7"/>
<path stroke="#8a22e0" d="M503.3,1065.7 A50,50 0 0 1 553.3,1115.7"/>
<path stroke="#22d422" d="M458.3,1115.7 A45,45 0 0 1 503.3,1070.7"/>
<path stroke="#ff3a3a" d="M467.3,1115.7 A36,36 0 0 1 503.3,1079.7"/>
<path stroke="#8a22e0" d="M476.3,1115.7 A27,27 0 0 1 503.3,1088.7"/>
<path stroke="#22d422" d="M503.3,1136.7 A21,21 0 0 1 482.3,1115.7"/>
<path stroke="#ff3a3a" d="M503.3,1128.7 A13,13 0 0 1 490.3,1115.7"/>
<path stroke="#8a22e0" d="M503.3,1119.7 A4,4 0 0 1 499.3,1115.7"/>
<path stroke="#22d422" d="M551.3,1115.7 A48,48 0 0 1 503.3,1163.7"/>
<path stroke="#ff3a3a" d="M543.3,1115.7 A40,40 0 0 1 503.3,1155.7"/>
<path stroke="#8a22e0" d="M534.3,1115.7 A31,31 0 0 1 503.3,1146.7"/>
<line x1="568" y1="1152.7" x2="582" y2="1152.7" stroke="#22d422"/>
<line x1="568" y1="1158.2" x2="582" y2="1158.2" stroke="#ff3a3a"/>
<line x1="568" y1="1163.5" x2="582" y2="1163.5" stroke="#8a22e0"/>
</g>
<g font-size="18.5" fill="#22d422">
<text x="460" y="1072.7" textLength="33" lengthAdjust="spacingAndGlyphs">NW</text>
<text x="533.3" y="1072.7" textLength="28.5" lengthAdjust="spacingAndGlyphs">NE</text>
<text x="460" y="1153" textLength="33" lengthAdjust="spacingAndGlyphs">SW</text>
<text x="532.7" y="1153" textLength="26.6" lengthAdjust="spacingAndGlyphs">SE</text>
</g>

<g class="lg">
<text x="1053.7" y="1017" textLength="251" lengthAdjust="spacingAndGlyphs">*** Примечание к таблице:</text>
<text x="974" y="1038.5" textLength="558.6" lengthAdjust="spacingAndGlyphs"><tspan font-weight="bold">дата(забл)</tspan>  - дата и срок (заблаговременность) прогноза</text>
<text x="971.5" y="1059" textLength="506" lengthAdjust="spacingAndGlyphs"><tspan font-weight="bold">°Ш., °Д.</tspan>  - широта, долгота   (координаты центра ТЦ)</text>
<text x="981.7" y="1081" textLength="481" lengthAdjust="spacingAndGlyphs"><tspan font-weight="bold">Pmin</tspan>   - минимальное давление в центре ТЦ , гПа</text>
<text x="982" y="1101.5" textLength="499" lengthAdjust="spacingAndGlyphs"><tspan font-weight="bold">Vmax</tspan>    -  максимальная скорость ветра в ТЦ , узлы</text>
<text x="982" y="1122" textLength="565.6" lengthAdjust="spacingAndGlyphs"><tspan font-weight="bold">R34, R50, R64 -</tspan>  максимальные радиусы ветров в морских</text>
<text x="982" y="1143" textLength="500" lengthAdjust="spacingAndGlyphs">милях для скоростей ветра более 34, 50 и 64 узлов</text>
<text x="1177" y="1164" textLength="152" lengthAdjust="spacingAndGlyphs">соответственно</text>
<text x="686" y="1192" textLength="769" lengthAdjust="spacingAndGlyphs">Отдел Метеорологии и Тропических Циклонов ФГБУ "ДВНИГМИ",  http://www.ferhri.org</text>
</g>
<rect x="1.5" y="0.5" width="1597" height="1198" fill="none" stroke="#444" stroke-width="2"/>
</svg>
</body></html>
